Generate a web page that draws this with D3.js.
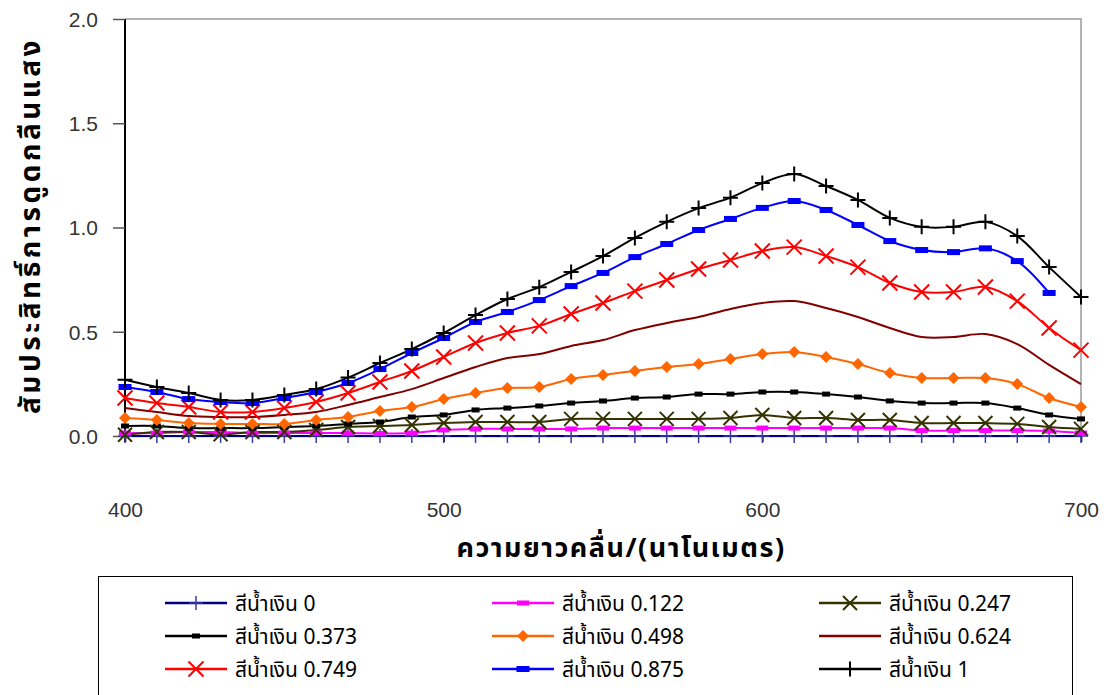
<!DOCTYPE html>
<html><head><meta charset="utf-8">
<script src="https://cdn.jsdelivr.net/npm/d3@7"></script>
<style>
body{margin:0;background:#fff;}
svg{display:block;}
.thai{font-family:"Noto Sans Thai","Noto Sans Thai UI","Loma","Garuda","Tlwg Typo","DejaVu Sans",sans-serif;}
.num{font-family:"Liberation Sans",Arial,sans-serif;}
</style></head><body>
<svg id="chart" width="1112" height="695"></svg>
<script>
const wavelengths = d3.range(400, 701, 10);
const seriesNames = ["สีน้ำเงิน 0","สีน้ำเงิน 0.122","สีน้ำเงิน 0.247","สีน้ำเงิน 0.373","สีน้ำเงิน 0.498","สีน้ำเงิน 0.624","สีน้ำเงิน 0.749","สีน้ำเงิน 0.875","สีน้ำเงิน 1"];
const s0    = [0,0,0,0,0,0,0,0,0,0,0,0,0,0,0,0,0,0,0,0,0,0,0,0,0,0,0,0,0,0,0];
const s0122 = [0.014,0.014,0.019,0.019,0.014,0.014,0.014,0.014,0.012,0.014,0.029,0.034,0.034,0.034,0.034,0.038,0.038,0.038,0.038,0.038,0.038,0.038,0.038,0.038,0.038,0.026,0.026,0.026,0.026,0.024,0.014];
const s0247 = [0.006,0.019,0.019,0.008,0.019,0.019,0.029,0.043,0.048,0.053,0.062,0.067,0.067,0.067,0.082,0.082,0.082,0.082,0.082,0.086,0.101,0.086,0.086,0.077,0.077,0.062,0.062,0.062,0.058,0.043,0.034];
const s0373 = [0.048,0.048,0.038,0.038,0.038,0.043,0.048,0.058,0.067,0.091,0.101,0.125,0.134,0.144,0.158,0.168,0.182,0.187,0.201,0.201,0.211,0.211,0.201,0.187,0.168,0.158,0.158,0.158,0.134,0.101,0.082];
const s0498 = [0.086,0.077,0.062,0.058,0.058,0.058,0.077,0.091,0.120,0.139,0.177,0.206,0.230,0.235,0.273,0.293,0.312,0.331,0.345,0.369,0.393,0.403,0.379,0.345,0.302,0.278,0.278,0.278,0.249,0.182,0.139];
const s0624 = [0.134,0.115,0.096,0.091,0.091,0.101,0.115,0.149,0.187,0.225,0.278,0.331,0.374,0.393,0.432,0.460,0.508,0.542,0.571,0.609,0.638,0.647,0.614,0.571,0.518,0.475,0.475,0.489,0.441,0.341,0.249];
const s0749 = [0.182,0.158,0.139,0.115,0.115,0.134,0.163,0.206,0.259,0.312,0.379,0.446,0.494,0.528,0.585,0.638,0.695,0.748,0.801,0.844,0.887,0.906,0.863,0.810,0.734,0.691,0.691,0.715,0.647,0.518,0.412];
const s0875 = [0.235,0.211,0.177,0.163,0.158,0.182,0.211,0.254,0.321,0.398,0.470,0.547,0.595,0.652,0.719,0.782,0.858,0.921,0.988,1.041,1.094,1.127,1.084,1.012,0.935,0.892,0.882,0.900,0.839,0.686,null];
const s1    = [0.270,0.235,0.206,0.173,0.173,0.197,0.225,0.280,0.350,0.417,0.494,0.580,0.657,0.714,0.787,0.863,0.950,1.027,1.093,1.143,1.213,1.257,1.199,1.132,1.046,1.003,1.003,1.027,0.959,0.810,0.667];
const yTicks = [0, 0.5, 1.0, 1.5, 2.0];
const xTicks = [400, 500, 600, 700];
const yTitle = "สัมประสิทธิ์การดูดกลืนแสง";
const xTitle = "ความยาวคลื่น/(นาโนเมตร)";

const seriesValues = [s0, s0122, s0247, s0373, s0498, s0624, s0749, s0875, s1];
const styles = [
  {color:"#000080", marker:"plus", mcolor:"#3a3aa0", size:14, mw:1.5},
  {color:"#FF00FF", marker:"dash", mcolor:"#FF00FF", size:12, mh:5},
  {color:"#333300", marker:"x", mcolor:"#333300", size:14, mw:2},
  {color:"#000000", marker:"dash", mcolor:"#000000", size:8, mh:5},
  {color:"#FF6600", marker:"diamond", mcolor:"#FF6600", size:12},
  {color:"#800000", marker:"none"},
  {color:"#FF0000", marker:"x", mcolor:"#FF0000", size:15, mw:2},
  {color:"#0000FF", marker:"dash", mcolor:"#0000FF", size:13, mh:6},
  {color:"#000000", marker:"plus", mcolor:"#000000", size:15, mw:2}
];

const svg = d3.select("#chart");
const x = d3.scaleLinear().domain([400,700]).range([125,1081]);
const y = d3.scaleLinear().domain([0,2]).range([436,19]);

// frame (top/right)
svg.append("path").attr("d",`M${x(400)},${y(2)}H${x(700)}V${y(0)}`)
  .attr("fill","none").attr("stroke","#9a9a9a").attr("stroke-width",1.5);

// x axis
const xAxis = svg.append("g").attr("transform",`translate(0,${y(0)})`)
  .call(d3.axisBottom(x).tickValues(xTicks).tickSize(6).tickPadding(60).tickFormat(d3.format("d")));
xAxis.select(".domain").attr("stroke","#888").attr("stroke-width",1.5);
xAxis.selectAll(".tick line").attr("stroke","#000").attr("stroke-width",1.5);
xAxis.selectAll("text").attr("class","num").attr("font-size",21).attr("fill","#333");

// y axis
const yAxis = svg.append("g").attr("transform",`translate(${x(400)},0)`)
  .call(d3.axisLeft(y).tickValues(yTicks).tickSize(12).tickPadding(15).tickFormat(d3.format(".1f")));
yAxis.select(".domain").attr("stroke","#000").attr("stroke-width",2).attr("d",`M0,${y(2)}V${y(0)+6}`);
yAxis.selectAll(".tick line").attr("stroke","#555").attr("stroke-width",1.5);
yAxis.selectAll("text").attr("class","num").attr("font-size",21).attr("fill","#333").attr("dy","0.35em");

// titles
svg.append("text").attr("class","thai").attr("transform",`translate(40,${(y(0)+y(2))/2 - 2}) rotate(-90)`)
  .attr("text-anchor","middle").attr("font-size",28).attr("letter-spacing",3.5).attr("font-weight","bold").attr("fill","#000").text(yTitle);
svg.append("text").attr("class","thai").attr("x",621).attr("y",557)
  .attr("text-anchor","middle").attr("font-size",27).attr("letter-spacing",1.5).attr("font-weight","bold").attr("fill","#000").text(xTitle);

function drawMarker(g, st, cx, cy){
  const s = st.size;
  if(st.marker==="plus"){
    g.append("path").attr("d",`M${cx-s/2},${cy}H${cx+s/2}M${cx},${cy-s/2}V${cy+s/2}`)
      .attr("stroke",st.mcolor).attr("stroke-width",st.mw).attr("fill","none");
  } else if(st.marker==="x"){
    const h=s/2;
    g.append("path").attr("d",`M${cx-h},${cy-h}L${cx+h},${cy+h}M${cx-h},${cy+h}L${cx+h},${cy-h}`)
      .attr("stroke",st.mcolor).attr("stroke-width",st.mw).attr("fill","none");
  } else if(st.marker==="dash"){
    g.append("rect").attr("x",cx-s/2).attr("y",cy-st.mh/2).attr("width",s).attr("height",st.mh).attr("fill",st.mcolor);
  } else if(st.marker==="diamond"){
    const h=s/2;
    g.append("path").attr("d",`M${cx},${cy-h}L${cx+h},${cy}L${cx},${cy+h}L${cx-h},${cy}Z`).attr("fill",st.mcolor);
  }
}

const line = d3.line().defined(d=>d[1]!==null).x(d=>x(d[0])).y(d=>y(d[1])).curve(d3.curveCatmullRom.alpha(0.5));
const plot = svg.append("g");
seriesValues.forEach((vals,i)=>{
  const st = styles[i];
  const pts = wavelengths.map((w,j)=>[w, vals[j]]);
  plot.append("path").datum(pts).attr("d",line).attr("fill","none").attr("stroke",st.color).attr("stroke-width",2);
});
seriesValues.forEach((vals,i)=>{
  const st = styles[i];
  const g = plot.append("g");
  wavelengths.forEach((w,j)=>{ if(vals[j]!==null) drawMarker(g, st, x(w), y(vals[j])); });
});

// legend
const lg = svg.append("g");
lg.append("rect").attr("x",98.5).attr("y",576.5).attr("width",974).attr("height",130)
  .attr("fill","#fff").attr("stroke","#000").attr("stroke-width",1);
const colX = [165, 492, 819];
const rowY = [603, 636, 669];
seriesNames.forEach((name,i)=>{
  const st = styles[i];
  const cx = colX[i%3], cy = rowY[Math.floor(i/3)];
  lg.append("line").attr("x1",cx).attr("x2",cx+62).attr("y1",cy).attr("y2",cy).attr("stroke",st.color).attr("stroke-width",2.5);
  drawMarker(lg, st, cx+31, cy);
  lg.append("text").attr("class","thai").attr("x",cx+70).attr("y",cy).attr("dy","0.38em")
    .attr("font-size",21).attr("fill","#000").text(name);
});
</script>
</body></html>
